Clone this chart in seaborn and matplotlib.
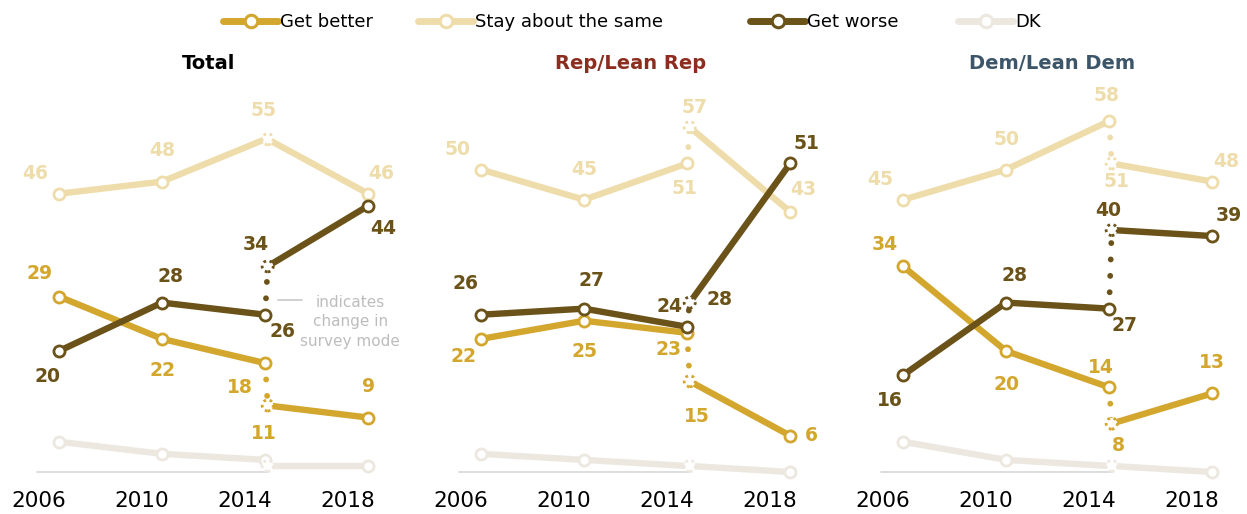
import matplotlib
matplotlib.use("Agg")
import matplotlib.pyplot as plt
from matplotlib.lines import Line2D
import pandas as pd
import seaborn as sns

# survey waves: phone 2006, 2010, 2014, then web 2014, 2018
years = [2006.8, 2010.8, 2014.8, 2014.9, 2018.8]
modes = ["phone", "phone", "phone", "web", "web"]
tick_years = [2006, 2010, 2014, 2018]

series = ["DK", "Stay about the same", "Get better", "Get worse"]
panels = ["Total", "Rep/Lean Rep", "Dem/Lean Dem"]

total_better = [29, 22, 18, 11, 9]
total_same = [46, 48, 55, 55, 46]
total_worse = [20, 28, 26, 34, 44]
total_dk = [5, 3, 2, 1, 1]

rep_better = [22, 25, 23, 15, 6]
rep_same = [50, 45, 51, 57, 43]
rep_worse = [26, 27, 24, 28, 51]
rep_dk = [3, 2, 1, 1, 0]

dem_better = [34, 20, 14, 8, 13]
dem_same = [45, 50, 58, 51, 48]
dem_worse = [16, 28, 27, 40, 39]
dem_dk = [5, 2, 1, 1, 0]

values = {
    "Total": {"DK": total_dk, "Stay about the same": total_same,
              "Get better": total_better, "Get worse": total_worse},
    "Rep/Lean Rep": {"DK": rep_dk, "Stay about the same": rep_same,
                     "Get better": rep_better, "Get worse": rep_worse},
    "Dem/Lean Dem": {"DK": dem_dk, "Stay about the same": dem_same,
                     "Get better": dem_better, "Get worse": dem_worse},
}

# styling
colors = {"Get better": "#D3A62E", "Stay about the same": "#EEDDAB",
          "Get worse": "#6A5219", "DK": "#ECE8E0"}
title_colors = {"Total": "black", "Rep/Lean Rep": "#8C2D1F", "Dem/Lean Dem": "#3D5568"}

# label offsets in pixels (dx right, dy down); None = no label
label_pos = {
    "Total": {
        "Stay about the same": [(-24, -20), (0, -31), None, (-4, -29), (13, -20)],
        "Get worse": [(-12, 25), (8, -26), (17, 17), (-12, -22), (15, 23)],
        "Get better": [(-19, -23), (0, 32), (-25, 24), (-4, 28), (0, -31)],
    },
    "Rep/Lean Rep": {
        "Stay about the same": [(-23, -20), (0, -30), (-3, 25), (5, -20), (13, -22)],
        "Get worse": [(-16, -31), (7, -28), (-18, -20), (30, -3), (16, -20)],
        "Get better": [(-18, 18), (0, 31), (-19, 17), (7, 35), (21, 0)],
    },
    "Dem/Lean Dem": {
        "Stay about the same": [(-23, -20), (0, -30), (-3, -26), (5, 18), (14, -20)],
        "Get worse": [(-13, 25), (8, -27), (15, 17), (-4, -20), (17, -21)],
        "Get better": [(-18, -22), (0, 34), (-8, -20), (7, 22), (0, -31)],
    },
}

sns.set_style("white")
plt.rcParams["font.family"] = ["DejaVu Sans"]
plt.rcParams["text.color"] = "black"

fig = plt.figure(figsize=(12.47, 5.14), dpi=100)

W, H = 1247, 514
for k, panel in enumerate(panels):
    left_px = 12.65 + 422 * k
    ax = fig.add_axes([left_px / W, (H - 484.1) / H, 391.6 / W, 387.2 / H])

    rows = []
    for s in series:
        for i, (yr, v, m) in enumerate(zip(years, values[panel][s], modes)):
            rows.append({"series": s, "year": yr, "value": v, "mode": m, "idx": i})
    df = pd.DataFrame(rows)

    # baseline
    ax.plot([2005.95, 2014.9], [0, 0], color="#DADADA", lw=1.3, zorder=1)

    for z, s in enumerate(series):
        c = colors[s]
        sub = df[df["series"] == s]
        base = 2 + z * 4
        sns.lineplot(data=sub, x="year", y="value", units="mode", estimator=None,
                     sort=False, color=c, lw=4.6, solid_capstyle="butt",
                     ax=ax, legend=False, zorder=base)
        pre = sub[sub["idx"] == 2].iloc[0]
        post = sub[sub["idx"] == 3].iloc[0]
        # dotted connector for the change in survey mode
        if pre["value"] != post["value"]:
            ax.plot([pre["year"], post["year"]], [pre["value"], post["value"]],
                    color=c, lw=4.2, linestyle=(0, (0.01, 2.8)),
                    dash_capstyle="round", zorder=base + 1)
        solid = sub[sub["idx"] != 3]
        if pre["value"] == post["value"]:
            solid = solid[solid["idx"] != 2]
        sns.scatterplot(data=solid, x="year", y="value", color="white",
                        edgecolor=c, linewidth=2.0, s=64, ax=ax,
                        legend=False, zorder=base + 2)
        sns.scatterplot(data=sub[sub["idx"] == 3], x="year", y="value",
                        color="white", edgecolor=c, linewidth=2.0, s=64,
                        linestyle=(0, (1.0, 1.3)), ax=ax, legend=False,
                        zorder=base + 3)
        if s in label_pos[panel]:
            for (_, r), off in zip(sub.iterrows(), label_pos[panel][s]):
                if off is None:
                    continue
                ax.annotate(f"{int(r['value'])}", (r["year"], r["value"]),
                            xytext=(off[0], -off[1]), textcoords="offset pixels",
                            ha="center", va="center", fontsize=13.5,
                            fontweight="bold", color=c, zorder=30)

    if k == 0:
        ax.plot([2015.3, 2016.24], [28.4, 28.4], color="#C8C8C8", lw=1.2)
        ax.text(2018.1, 24.8, "indicates\nchange in\nsurvey mode", ha="center",
                va="center", fontsize=11, color="#BDBDBD", linespacing=1.37)

    ax.set_xlim(2005.0, 2020.2)
    ax.set_ylim(-2, 62)
    ax.set_xticks(tick_years)
    ax.set_xticklabels([str(t) for t in tick_years])
    ax.set_yticks([])
    ax.tick_params(axis="x", length=0, pad=5, labelsize=15.5, colors="black")
    ax.set_xlabel("")
    ax.set_ylabel("")
    for sp in ax.spines.values():
        sp.set_visible(False)
    ax.set_title(panel, fontsize=14, fontweight="bold", color=title_colors[panel], pad=20)

# legend, one entry at a time
legend_order = ["Get better", "Stay about the same", "Get worse", "DK"]
legend_x = [223, 418, 750, 958]
for name, xp in zip(legend_order, legend_x):
    c = colors[name]
    h = Line2D([], [], color=c, lw=5, marker="o", markerfacecolor="white",
               markeredgecolor=c, markersize=9, markeredgewidth=2.2)
    fig.legend([h], [name], loc="center left", bbox_to_anchor=(xp / W, 1 - 22 / H),
               frameon=False, fontsize=13, handlelength=3.05, handletextpad=0.12,
               borderpad=0, borderaxespad=0)

fig.savefig("out.png", dpi=100)
